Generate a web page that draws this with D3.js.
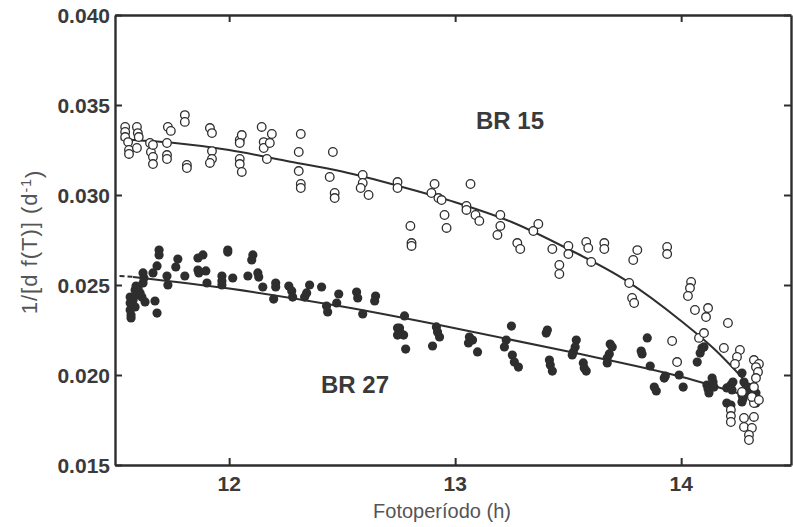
<!DOCTYPE html>
<html>
<head>
<meta charset="utf-8">
<script src="https://cdn.jsdelivr.net/npm/d3@7/dist/d3.min.js"></script>
<style>
    body { margin: 0; background: #fff; }
    svg { display: block; font-family: "Liberation Sans", Arial, sans-serif; }
    .tick-label { font-weight: bold; fill: #3a3a3a; }
    .title { fill: #555; }
</style>
</head>
<body>
<div id="chart"></div>
<script>

// photoperiod (h) / 1/[d f(T)] for BR 15 (open circles)
var br15X = [
    11.54, 11.54, 11.54, 11.553, 11.557, 11.557, 11.592, 11.596, 11.60, 11.592,
    11.65, 11.654, 11.663, 11.663, 11.663, 11.725, 11.725, 11.725, 11.729, 11.742,
    11.804, 11.804, 11.813, 11.813, 11.915, 11.924, 11.924, 11.924, 11.915, 12.047,
    12.056, 12.047, 12.047, 12.047, 12.056, 12.144, 12.153, 12.153, 12.18, 12.189,
    12.167, 12.317, 12.308, 12.308, 12.317, 12.317, 12.459, 12.445, 12.467, 12.467,
    12.591, 12.591, 12.582, 12.617, 12.745, 12.745, 12.909, 12.895, 12.926, 13.068,
    12.94, 12.953, 12.962, 12.802, 12.807, 12.807, 13.05, 13.05, 13.09, 13.107,
    13.20, 13.20, 13.187, 13.275, 13.288, 13.346, 13.368, 13.43, 13.461, 13.461,
    13.501, 13.501, 13.58, 13.589, 13.66, 13.66, 13.602, 13.77, 13.783, 13.792,
    13.788, 13.806, 13.938, 13.938, 14.044, 14.039, 14.03, 14.061, 14.119, 14.11,
    14.207, 14.079, 14.101, 13.96, 13.982, 14.189, 14.26, 14.247, 14.238, 14.322,
    14.344, 14.331, 14.34, 14.331, 14.322, 14.269, 14.322, 14.322, 14.278, 14.278,
    14.313, 14.30, 14.30, 14.22, 14.22, 14.22, 14.313, 14.344
];
var br15Y = [
    0.03378, 0.0335, 0.03322, 0.03294, 0.0325, 0.03228, 0.03378, 0.03344, 0.03322, 0.03261,
    0.03289, 0.03239, 0.03211, 0.03172, 0.03278, 0.03289, 0.03222, 0.032, 0.03378, 0.03356,
    0.03444, 0.03406, 0.03167, 0.0315, 0.03372, 0.03344, 0.03244, 0.032, 0.03178, 0.03306,
    0.03333, 0.03289, 0.032, 0.03172, 0.03128, 0.03378, 0.03294, 0.03261, 0.03289, 0.03339,
    0.032, 0.03339, 0.03239, 0.03133, 0.03061, 0.03039, 0.03239, 0.031, 0.03011, 0.02983,
    0.03111, 0.03067, 0.03039, 0.03, 0.03072, 0.03039, 0.03061, 0.03011, 0.02983, 0.03061,
    0.02972, 0.02889, 0.02817, 0.02828, 0.02733, 0.02717, 0.02939, 0.02917, 0.02889, 0.02856,
    0.02889, 0.02828, 0.02778, 0.02733, 0.027, 0.028, 0.02839, 0.027, 0.02611, 0.02561,
    0.02717, 0.02672, 0.02739, 0.02706, 0.02733, 0.027, 0.02628, 0.02511, 0.02428, 0.024,
    0.02639, 0.02694, 0.02711, 0.02672, 0.02517, 0.02483, 0.02439, 0.02361, 0.02372, 0.02322,
    0.02289, 0.02206, 0.02233, 0.02189, 0.02072, 0.0215, 0.02139, 0.021, 0.02061, 0.02083,
    0.02061, 0.02044, 0.02017, 0.01983, 0.01933, 0.01906, 0.01844, 0.01767, 0.01761, 0.01711,
    0.01706, 0.01667, 0.01639, 0.01806, 0.01772, 0.01739, 0.01878, 0.01861
];

// BR 27 (filled dots)
var br27X = [
    11.562, 11.562, 11.562, 11.566, 11.566, 11.575, 11.584, 11.588, 11.584, 11.588,
    11.597, 11.606, 11.614, 11.619, 11.623, 11.619, 11.628, 11.663, 11.681, 11.69,
    11.69, 11.672, 11.681, 11.725, 11.729, 11.773, 11.764, 11.804, 11.862, 11.884,
    11.862, 11.866, 11.897, 11.902, 11.968, 11.968, 11.968, 11.994, 11.994, 12.016,
    12.083, 12.10, 12.105, 12.127, 12.131, 12.149, 12.197, 12.206, 12.206, 12.264,
    12.277, 12.281, 12.356, 12.343, 12.334, 12.409, 12.431, 12.436, 12.485, 12.476,
    12.564, 12.569, 12.591, 12.648, 12.644, 12.745, 12.745, 12.776, 12.754, 12.758,
    12.772, 12.781, 12.90, 12.917, 12.922, 12.931, 13.063, 13.059, 13.077, 13.099,
    13.249, 13.226, 13.218, 13.253, 13.262, 13.28, 13.403, 13.408, 13.417, 13.421,
    13.43, 13.536, 13.531, 13.523, 13.518, 13.567, 13.571, 13.58, 13.686, 13.695,
    13.682, 13.673, 13.673, 13.823, 13.827, 13.85, 13.863, 13.881, 13.89, 13.925,
    13.93, 13.991, 14.009, 14.071, 14.084, 14.092, 14.101, 14.114, 14.119, 14.123,
    14.137, 14.141, 14.145, 14.202, 14.22, 14.229, 14.225, 14.202, 14.22, 14.269,
    14.278, 14.287, 14.269, 14.269, 14.296, 14.30, 14.318, 14.327, 14.331, 14.331,
    14.273
];
var br27Y = [
    0.02433, 0.024, 0.02361, 0.02333, 0.02317, 0.02417, 0.02378, 0.02444, 0.02472, 0.02494,
    0.02483, 0.02456, 0.02433, 0.02511, 0.02539, 0.02567, 0.02406, 0.02567, 0.02606, 0.02694,
    0.02667, 0.02411, 0.02344, 0.0255, 0.025, 0.02644, 0.026, 0.0255, 0.0265, 0.02667,
    0.02583, 0.02567, 0.02578, 0.02511, 0.0255, 0.02522, 0.025, 0.02694, 0.02683, 0.02539,
    0.0255, 0.02639, 0.02667, 0.02567, 0.02544, 0.02489, 0.02422, 0.02511, 0.02489, 0.02494,
    0.02467, 0.02433, 0.025, 0.02456, 0.02433, 0.02489, 0.02383, 0.0235, 0.0245, 0.024,
    0.02461, 0.02428, 0.02339, 0.02439, 0.02411, 0.02261, 0.02222, 0.02328, 0.02261, 0.02233,
    0.02222, 0.02144, 0.02161, 0.02267, 0.02239, 0.02211, 0.02211, 0.02178, 0.02194, 0.02128,
    0.02272, 0.02194, 0.02156, 0.02111, 0.02072, 0.02044, 0.02233, 0.0225, 0.02083, 0.02056,
    0.02022, 0.02194, 0.02156, 0.02128, 0.02111, 0.02067, 0.02039, 0.02022, 0.02172, 0.02156,
    0.02117, 0.02094, 0.02067, 0.02133, 0.02117, 0.02206, 0.0205, 0.01933, 0.01911, 0.01983,
    0.01994, 0.02, 0.01933, 0.02072, 0.02122, 0.0215, 0.02156, 0.01944, 0.01922, 0.019,
    0.01983, 0.01961, 0.01933, 0.01928, 0.01944, 0.01961, 0.01917, 0.01844, 0.01833, 0.02011,
    0.01961, 0.01928, 0.01889, 0.0185, 0.01933, 0.019, 0.01878, 0.01861, 0.01844, 0.019,
    0.01867
];

// fitted curves
var br15FitX = [11.52, 11.75, 12.0, 12.25, 12.5, 12.75, 13.0, 13.25, 13.5, 13.75, 14.0, 14.15, 14.31];
var br15FitY = [0.0331, 0.0329, 0.0325, 0.0319, 0.0313, 0.0305, 0.0296, 0.0285, 0.0270, 0.0253, 0.0230, 0.0214, 0.0193];
var br27FitX = [11.575, 12.0, 12.5, 13.0, 13.5, 14.0, 14.3];
var br27FitY = [0.02545, 0.0248, 0.0238, 0.0226, 0.0213, 0.0199, 0.0188];
var br27LeadX = [11.515, 11.575];
var br27LeadY = [0.0255, 0.02545];

var xTicks = [12, 13, 14];
var yTicks = [0.015, 0.020, 0.025, 0.030, 0.035, 0.040];

var width = 793, height = 527;
var margin = { left: 115, top: 15, right: 2, bottom: 62 };
var ink = '#2e2e2e';

var x = d3.scaleLinear()
    .domain([11.495, 14.486])
    .range([margin.left, width - margin.right]);
var y = d3.scaleLinear()
    .domain([0.015, 0.040])
    .range([height - margin.bottom, margin.top]);

var svg = d3.select('#chart')
    .append('svg')
    .attr('width', width)
    .attr('height', height);

var zip = (xs, ys) => xs.map((v, i) => [v, ys[i]]);

// frame with inward ticks on all four sides
var tick = 7;
function frame(axis, transform) {
    var g = svg.append('g')
        .attr('transform', transform)
        .call(axis.tickSize(-tick).tickSizeOuter(0).tickFormat(''));
    g.select('.domain').attr('stroke', ink).attr('stroke-width', 2.4);
    g.selectAll('.tick line').attr('stroke', ink).attr('stroke-width', 2);
    return g;
}
frame(d3.axisBottom(x).tickValues(xTicks), 'translate(0,' + y(0.015) + ')');
frame(d3.axisTop(x).tickValues(xTicks), 'translate(0,' + y(0.040) + ')');
frame(d3.axisLeft(y).tickValues(yTicks), 'translate(' + x.range()[0] + ',0)');
frame(d3.axisRight(y).tickValues(yTicks), 'translate(' + x.range()[1] + ',0)');

svg.append('g')
    .selectAll('text')
    .data(xTicks)
    .enter()
    .append('text')
    .attr('class', 'tick-label')
    .attr('x', d => x(d))
    .attr('y', 491)
    .attr('text-anchor', 'middle')
    .style('font-size', '21px')
    .text(d => d);

svg.append('g')
    .selectAll('text')
    .data(yTicks)
    .enter()
    .append('text')
    .attr('class', 'tick-label')
    .attr('x', 110)
    .attr('y', d => y(d))
    .attr('dy', '0.36em')
    .attr('text-anchor', 'end')
    .style('font-size', '21px')
    .text(d => d3.format('.3f')(d));

svg.append('text')
    .attr('class', 'title')
    .attr('x', 442)
    .attr('y', 518)
    .attr('text-anchor', 'middle')
    .style('font-size', '20px')
    .text('Fotoperíodo (h)');

var yTitle = svg.append('text')
    .attr('class', 'title')
    .attr('transform', 'translate(37,242) rotate(-90)')
    .attr('text-anchor', 'middle')
    .style('font-size', '22px')
    .style('letter-spacing', '1px');
yTitle.append('tspan').text('1/[d f(T)] (d');
yTitle.append('tspan').attr('dy', '-0.45em').style('font-size', '14px').text('-1');
yTitle.append('tspan').attr('dy', '0.45em').text(')');

// fitted lines
var line = d3.line()
    .x(d => x(d[0]))
    .y(d => y(d[1]))
    .curve(d3.curveMonotoneX);

svg.append('path')
    .datum(zip(br15FitX, br15FitY))
    .attr('d', line)
    .attr('fill', 'none')
    .attr('stroke', ink)
    .attr('stroke-width', 2);

svg.append('path')
    .datum(zip(br27FitX, br27FitY))
    .attr('d', line)
    .attr('fill', 'none')
    .attr('stroke', ink)
    .attr('stroke-width', 2);

svg.append('path')
    .datum(zip(br27LeadX, br27LeadY))
    .attr('d', line)
    .attr('fill', 'none')
    .attr('stroke', ink)
    .attr('stroke-width', 2)
    .attr('stroke-dasharray', '5,3');

// points
svg.append('g')
    .selectAll('circle')
    .data(zip(br27X, br27Y))
    .enter()
    .append('circle')
    .attr('cx', d => x(d[0]))
    .attr('cy', d => y(d[1]))
    .attr('r', 4.6)
    .attr('fill', ink);

svg.append('g')
    .selectAll('circle')
    .data(zip(br15X, br15Y))
    .enter()
    .append('circle')
    .attr('cx', d => x(d[0]))
    .attr('cy', d => y(d[1]))
    .attr('r', 4.3)
    .attr('fill', '#fff')
    .attr('stroke', ink)
    .attr('stroke-width', 1.3);

svg.append('text')
    .attr('class', 'tick-label')
    .attr('x', 476)
    .attr('y', 129)
    .style('font-size', '24px')
    .text('BR 15');

svg.append('text')
    .attr('class', 'tick-label')
    .attr('x', 321)
    .attr('y', 393)
    .style('font-size', '24px')
    .text('BR 27');

</script>
</body>
</html>
